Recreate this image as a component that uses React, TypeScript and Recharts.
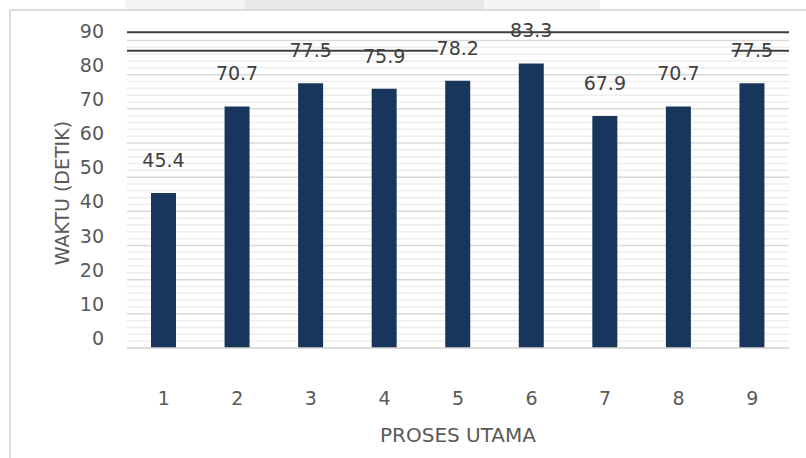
import React from 'react';
import { BarChart, Bar, XAxis, YAxis, CartesianGrid, ReferenceLine, LabelList, Label } from 'recharts';

const categories = ['1', '2', '3', '4', '5', '6', '7', '8', '9'];
const waktu = [45.4, 70.7, 77.5, 75.9, 78.2, 83.3, 67.9, 70.7, 77.5];
const yTicks = [0, 10, 20, 30, 40, 50, 60, 70, 80, 90];
const minorTicks = [2, 4, 6, 8, 12, 14, 16, 18, 22, 24, 26, 28, 32, 34, 36, 38, 42, 44, 46, 48, 52, 54, 56, 58, 62, 64, 66, 68, 72, 74, 76, 78, 82, 84, 86, 88];
const yMax = 92.4;
const topRuleValue = 92.4;
const lowerRuleValue = 87.0;
const lowerRuleSegments = [[0.5, 4.73], [8.72, 9.5]];

const data = categories.map((c, i) => ({ proses: c, waktu: waktu[i], n: i + 1 }));

const FONT = 'DejaVu Sans, sans-serif';

const YTick = (props: any) => {
  const { x, y, payload } = props;
  return (
    <text x={x} y={y - 10} textAnchor="end" dominantBaseline="central" fill="#595959" fontSize={19} fontFamily={FONT}>
      {payload.value}
    </text>
  );
};

const XTick = (props: any) => {
  const { x, y, payload } = props;
  return (
    <text x={x} y={y} textAnchor="middle" dominantBaseline="central" fill="#595959" fontSize={19} fontFamily={FONT}>
      {payload.value}
    </text>
  );
};

const BarValue = (props: any) => {
  const { x, y, width, value } = props;
  return (
    <text x={x + width / 2} y={y - 33} textAnchor="middle" dominantBaseline="central" fill="#404040" fontSize={19} fontFamily={FONT}>
      {value}
    </text>
  );
};

const minorGen = (args: any) => {
  const yAxis = args && args.yAxis;
  const sc = yAxis && yAxis.scale;
  if (typeof sc === 'function') return minorTicks.map((t) => sc(t));
  if (sc && typeof sc.map === 'function') return minorTicks.map((t) => sc.map(t));
  const off = args && args.offset;
  if (!off) return [];
  return minorTicks.map((t) => off.top + off.height * (1 - t / yMax));
};

export default function App() {
  return (
    <div style={{ position: 'absolute', left: 0, top: 0, width: 806, height: 458, background: '#fff', overflow: 'hidden' }}>
      <div style={{ position: 'absolute', left: 125, top: 0, width: 120, height: 9, background: '#f5f5f5' }} />
      <div style={{ position: 'absolute', left: 245, top: 0, width: 239, height: 9, background: '#e8e8e8' }} />
      <div style={{ position: 'absolute', left: 484, top: 0, width: 116, height: 9, background: '#f5f5f5' }} />
      <div style={{ position: 'absolute', left: 9, top: 9, width: 800, height: 460, borderLeft: '2px solid #dcdcdc', borderTop: '2px solid #dcdcdc' }} />
      <div style={{ position: 'absolute', left: 0, top: 0 }}>
        <BarChart width={806} height={458} data={data} margin={{ top: 32.3, right: 17, left: 0, bottom: 0 }}>
          <CartesianGrid vertical={false} stroke="#eeeeee" strokeWidth={1.5} horizontalCoordinatesGenerator={minorGen} />
          <CartesianGrid vertical={false} stroke="#d9d9d9" strokeWidth={1.5} />
          <XAxis
            dataKey="proses"
            height={110}
            axisLine={{ stroke: '#d9d9d9', strokeWidth: 1.5 }}
            tickLine={false}
            tickSize={0}
            tickMargin={50}
            tick={<XTick />}
            interval={0}
          >
            <Label value="PROSES UTAMA" position="insideBottom" offset={16} fill="#595959" fontSize={20} fontFamily={FONT} />
          </XAxis>
          <XAxis xAxisId="n" type="number" dataKey="n" domain={[0.5, 9.5]} hide />
          <YAxis
            width={127}
            domain={[0, yMax]}
            ticks={yTicks}
            axisLine={false}
            tickLine={false}
            tickSize={0}
            tickMargin={23}
            tick={<YTick />}
            interval={0}
          >
            <Label value="WAKTU (DETIK)" angle={-90} position="center" dx={-1.5} dy={3} fill="#595959" fontSize={19} fontFamily={FONT} />
          </YAxis>
          <Bar dataKey="waktu" fill="#18365c" barSize={25} isAnimationActive={false}>
            <LabelList dataKey="waktu" content={<BarValue />} />
          </Bar>
          <ReferenceLine y={topRuleValue} stroke="#404040" strokeWidth={2} ifOverflow="visible" />
          {lowerRuleSegments.map((s, i) => (
            <ReferenceLine
              key={i}
              xAxisId="n"
              segment={[{ x: s[0], y: lowerRuleValue }, { x: s[1], y: lowerRuleValue }]}
              stroke="#404040"
              strokeWidth={2}
              ifOverflow="visible"
            />
          ))}
        </BarChart>
      </div>
    </div>
  );
}
